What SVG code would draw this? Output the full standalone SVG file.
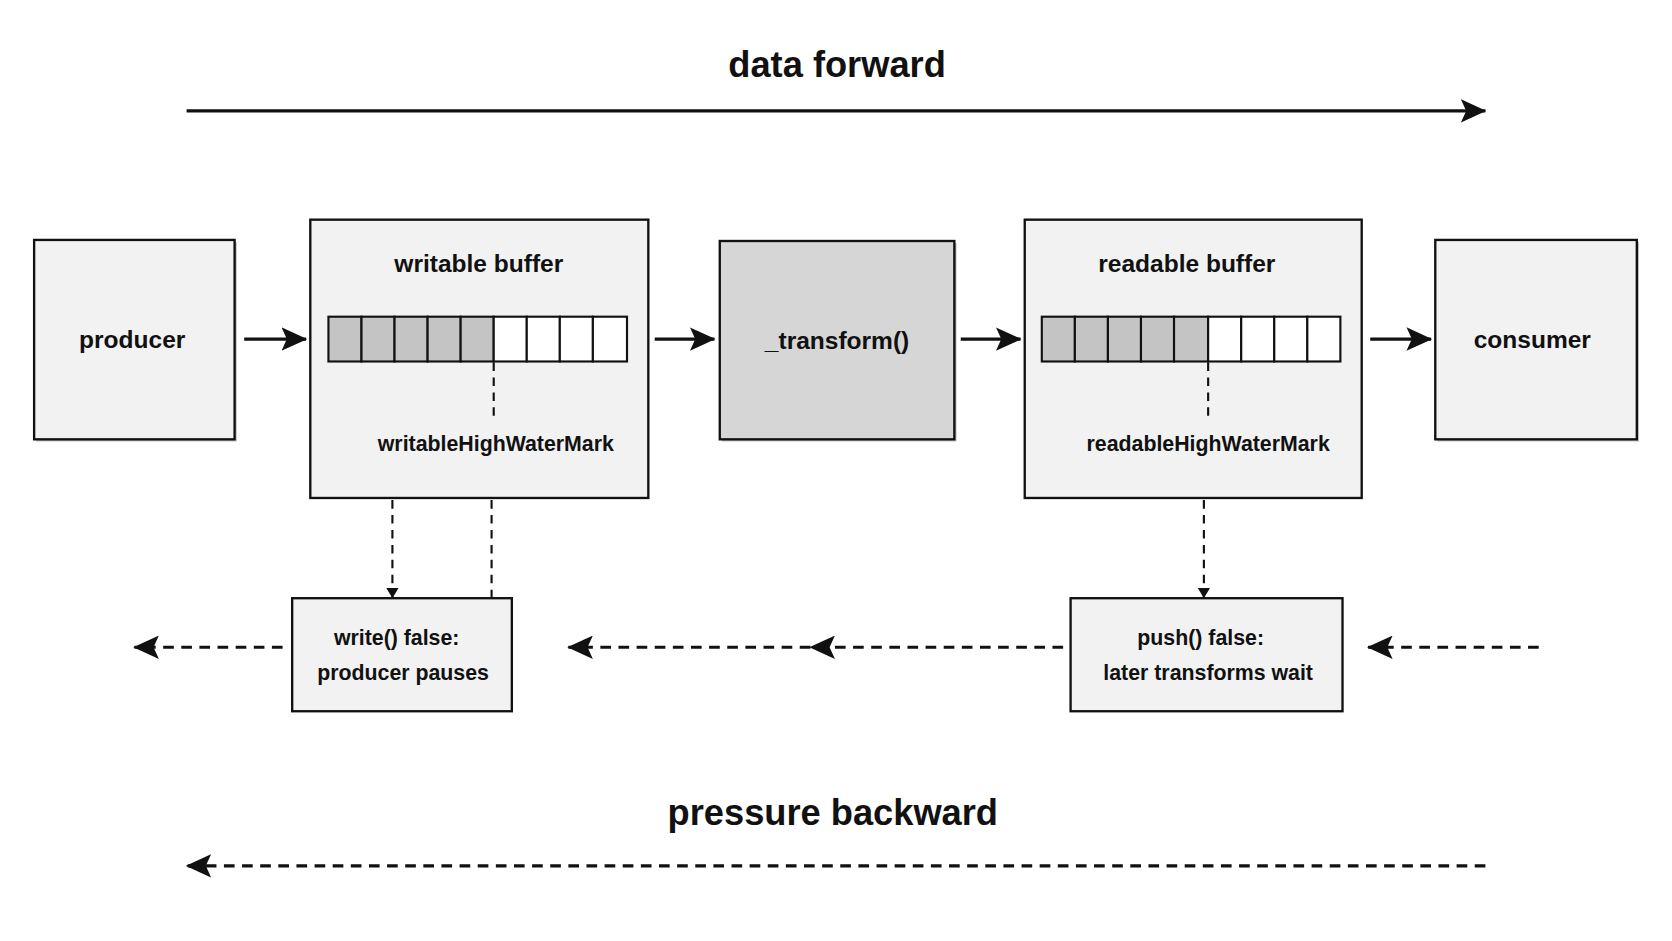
<svg xmlns="http://www.w3.org/2000/svg" width="1672" height="941" viewBox="0 0 1672 941">
<style>
.box{fill:#f2f2f2;stroke:#111;stroke-width:2.2}
.sh{fill:#bbb}
.t{font-family:"Liberation Sans",Arial,sans-serif;font-weight:bold;fill:#111;text-anchor:middle}
.n{font-size:23px}
.s{font-size:20px}
.h{font-size:34px}
.ln{stroke:#111;stroke-width:3;fill:none}
.dl{stroke:#111;stroke-width:3;fill:none;stroke-dasharray:10 7}
.dv{stroke:#111;stroke-width:2;fill:none;stroke-dasharray:8 6}
.g{fill:#c4c4c4;stroke:#111;stroke-width:2}
.w{fill:#fff;stroke:#111;stroke-width:2}
</style>
<defs>
<marker id="ah" markerWidth="8" markerHeight="8" refX="7" refY="4" orient="auto" markerUnits="userSpaceOnUse" viewBox="0 0 8 8"><path d="M0,0 L8,4 L0,8 z" fill="#111"/></marker>
<marker id="big" markerWidth="24" markerHeight="22" refX="23" refY="11" orient="auto" markerUnits="userSpaceOnUse"><path d="M0,0 L24,11 L0,22 L5,11 z" fill="#111"/></marker>
<marker id="sm" markerWidth="10" markerHeight="12" refX="9" refY="6" orient="auto" markerUnits="userSpaceOnUse"><path d="M0,0 L10,6 L0,12 z" fill="#111"/></marker>
</defs>
<rect width="1672" height="941" fill="#fff"/>
<g transform="scale(1.06633)">
<g id="title-forward"><text class="t h" x="785" y="72">data forward</text></g>
<g id="title-backward"><text class="t h" x="781" y="774">pressure backward</text></g>
<g id="connectors">
<line class="ln" x1="175" y1="104" x2="1393" y2="104" marker-end="url(#big)"/>
<line class="dl" x1="1393" y1="812" x2="175" y2="812" marker-end="url(#big)"/>
<line class="ln" x1="229" y1="318" x2="287" y2="318" marker-end="url(#big)"/>
<line class="ln" x1="614" y1="318" x2="670" y2="318" marker-end="url(#big)"/>
<line class="ln" x1="901" y1="318" x2="957" y2="318" marker-end="url(#big)"/>
<line class="ln" x1="1285" y1="318" x2="1342" y2="318" marker-end="url(#big)"/>
<line class="dv" x1="368" y1="469" x2="368" y2="560" marker-end="url(#sm)"/>
<line class="dv" x1="461" y1="469" x2="461" y2="560"/>
<line class="dv" x1="1129" y1="469" x2="1129" y2="560" marker-end="url(#sm)"/>
<line class="dl" x1="265" y1="607" x2="126" y2="607" marker-end="url(#big)"/>
<line class="dl" x1="997" y1="607" x2="760" y2="607" marker-end="url(#big)"/>
<line class="dl" x1="760" y1="607" x2="533" y2="607" marker-end="url(#big)"/>
<line class="dl" x1="1443" y1="607" x2="1283" y2="607" marker-end="url(#big)"/>
</g>
<g id="producer"><rect class="sh" x="34" y="227" width="188" height="187"/><rect class="box" x="32" y="225" width="188" height="187"/><text class="t n" x="124" y="326">producer</text></g>
<g id="writable-buffer"><rect class="box" x="291" y="206" width="317" height="261"/><text class="t n" x="449" y="255">writable buffer</text>
<rect class="g" x="308" y="297" width="31" height="42"/><rect class="g" x="339" y="297" width="31" height="42"/><rect class="g" x="370" y="297" width="31" height="42"/><rect class="g" x="401" y="297" width="31" height="42"/><rect class="g" x="432" y="297" width="31" height="42"/><rect class="w" x="463" y="297" width="31" height="42"/><rect class="w" x="494" y="297" width="31" height="42"/><rect class="w" x="525" y="297" width="31" height="42"/><rect class="w" x="556" y="297" width="32" height="42"/>
<line class="dv" x1="463" y1="340" x2="463" y2="390"/><text class="t s" x="465" y="423">writableHighWaterMark</text></g>
<g id="transform"><rect class="sh" x="677" y="228" width="220" height="186"/><rect class="box" x="675" y="226" width="220" height="186" style="fill:#d6d6d6"/><text class="t n" x="785" y="327">_transform()</text></g>
<g id="readable-buffer"><rect class="box" x="961" y="206" width="316" height="261"/><text class="t n" x="1113" y="255">readable buffer</text>
<rect class="g" x="977" y="297" width="31" height="42"/><rect class="g" x="1008" y="297" width="31" height="42"/><rect class="g" x="1039" y="297" width="31" height="42"/><rect class="g" x="1070" y="297" width="31" height="42"/><rect class="g" x="1101" y="297" width="32" height="42"/><rect class="w" x="1133" y="297" width="31" height="42"/><rect class="w" x="1164" y="297" width="31" height="42"/><rect class="w" x="1195" y="297" width="31" height="42"/><rect class="w" x="1226" y="297" width="31" height="42"/>
<line class="dv" x1="1133" y1="340" x2="1133" y2="390"/><text class="t s" x="1133" y="423">readableHighWaterMark</text></g>
<g id="consumer"><rect class="sh" x="1348" y="227" width="189" height="187"/><rect class="box" x="1346" y="225" width="189" height="187"/><text class="t n" x="1437" y="326">consumer</text></g>
<g id="write-false"><rect class="box" x="274" y="561" width="206" height="106"/><text class="t s" x="372" y="605">write() false:</text><text class="t s" x="378" y="638">producer pauses</text></g>
<g id="push-false"><rect class="box" x="1004" y="561" width="255" height="106"/><text class="t s" x="1126" y="605">push() false:</text><text class="t s" x="1133" y="638">later transforms wait</text></g>
</g>
</svg>
